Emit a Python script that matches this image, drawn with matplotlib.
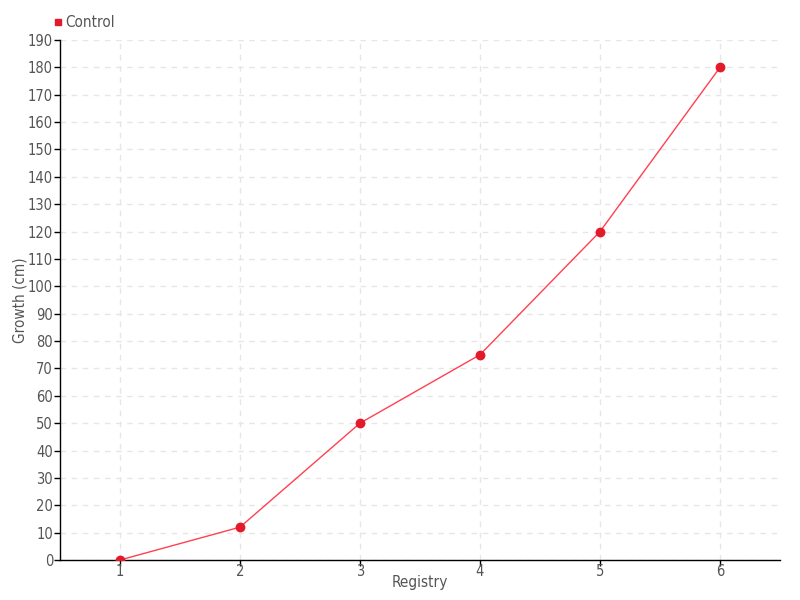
import matplotlib
matplotlib.use("Agg")
import matplotlib.pyplot as plt
from matplotlib.lines import Line2D

x_values = [1, 2, 3, 4, 5, 6]
growth = [0, 12, 50, 75, 120, 180]
series_name = "Control"
x_label = "Registry"
y_label = "Growth (cm)"
y_ticks = list(range(0, 191, 10))

plt.rcParams['font.family'] = ['DejaVu Sans']
plt.rcParams['font.stretch'] = 'condensed'

fig = plt.figure(figsize=(8, 6), dpi=100)
ax = fig.add_axes([0.075, 1 - 560/600, 0.9, 520/600])

ax.plot(x_values, growth, color='#ff4050', lw=1, zorder=3)
ax.scatter(x_values, growth, s=50, color='#e31a2a', zorder=4, linewidths=0)

ax.set_xlim(0.5, 6.5)
ax.set_ylim(0, 190)
ax.set_yticks(y_ticks)
ax.set_xticks(x_values)
ax.grid(True, color='#e6e6e6', linestyle=(0, (4, 4)), lw=1)
ax.set_axisbelow(True)

for s in ['top', 'right']:
    ax.spines[s].set_visible(False)
for s in ['left', 'bottom']:
    ax.spines[s].set_linewidth(1)
    ax.spines[s].set_color('black')

ax.tick_params(axis='both', length=4, width=1, colors='black', labelcolor='#555555', labelsize=10.5, pad=1)
ax.tick_params(axis='x', pad=-1)
ax.set_xlabel(x_label, color='#555555', fontsize=11, labelpad=-3)
ax.set_ylabel(y_label, color='#555555', fontsize=11, labelpad=0)

handle = Line2D([], [], marker='s', color='#e31a2a', linestyle='none', markersize=5)
fig.legend([handle], [series_name], loc='upper left', bbox_to_anchor=(0.057, 0.985),
           frameon=False, handletextpad=0.1, handlelength=0.8, fontsize=11,
           labelcolor='#555555', borderaxespad=0)

fig.savefig('out.png', dpi=100)
